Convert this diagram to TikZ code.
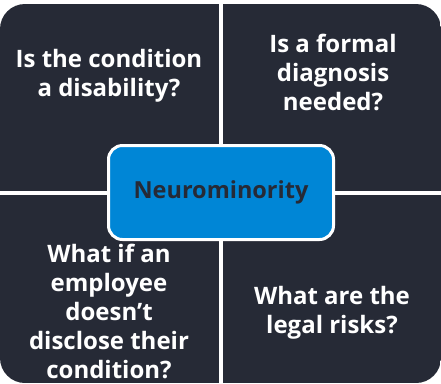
\documentclass[tikz,border=0pt]{standalone}
\usepackage{fontspec}
\setmainfont{Open Sans}
\definecolor{qdark}{HTML}{262A36}
\definecolor{qblue}{HTML}{0086D6}
\begin{document}
\begin{tikzpicture}[x=1bp,y=-1bp,
  qtext/.style={align=center,text=white,font=\fontsize{24bp}{29bp}\selectfont\bfseries,inner sep=0pt},
  quad/.style={fill=qdark},
  hub/.style={draw=white,line width=3bp,fill=qblue,rounded corners=14bp,minimum width=225bp,minimum height=94bp,inner sep=0pt,text=qdark,font=\fontsize{23.5bp}{26bp}\selectfont\bfseries}]
\useasboundingbox[fill=white] (0,0) rectangle (441,383);
\begin{scope}
  \clip[rounded corners=25bp] (0,4) rectangle (441,383);
  \fill[quad] (0,4) rectangle (219,191);
  \fill[quad] (223,4) rectangle (441,191);
  \fill[quad] (0,195) rectangle (219,383);
  \fill[quad] (223,195) rectangle (441,383);
\end{scope}
\node[qtext] (tl) at (109,75.5) {Is the condition\\a disability?};
\node[qtext] (tr) at (333,72.5) {Is a formal\\diagnosis\\needed?};
\node[qtext] (bl) at (109,311.5) {What if an\\employee\\doesn’t\\disclose their\\condition?};
\node[qtext] (br) at (332,313) {What are the\\legal risks?};
\node[hub] (c) at (221,192.5) {Neurominority};
\end{tikzpicture}
\end{document}
